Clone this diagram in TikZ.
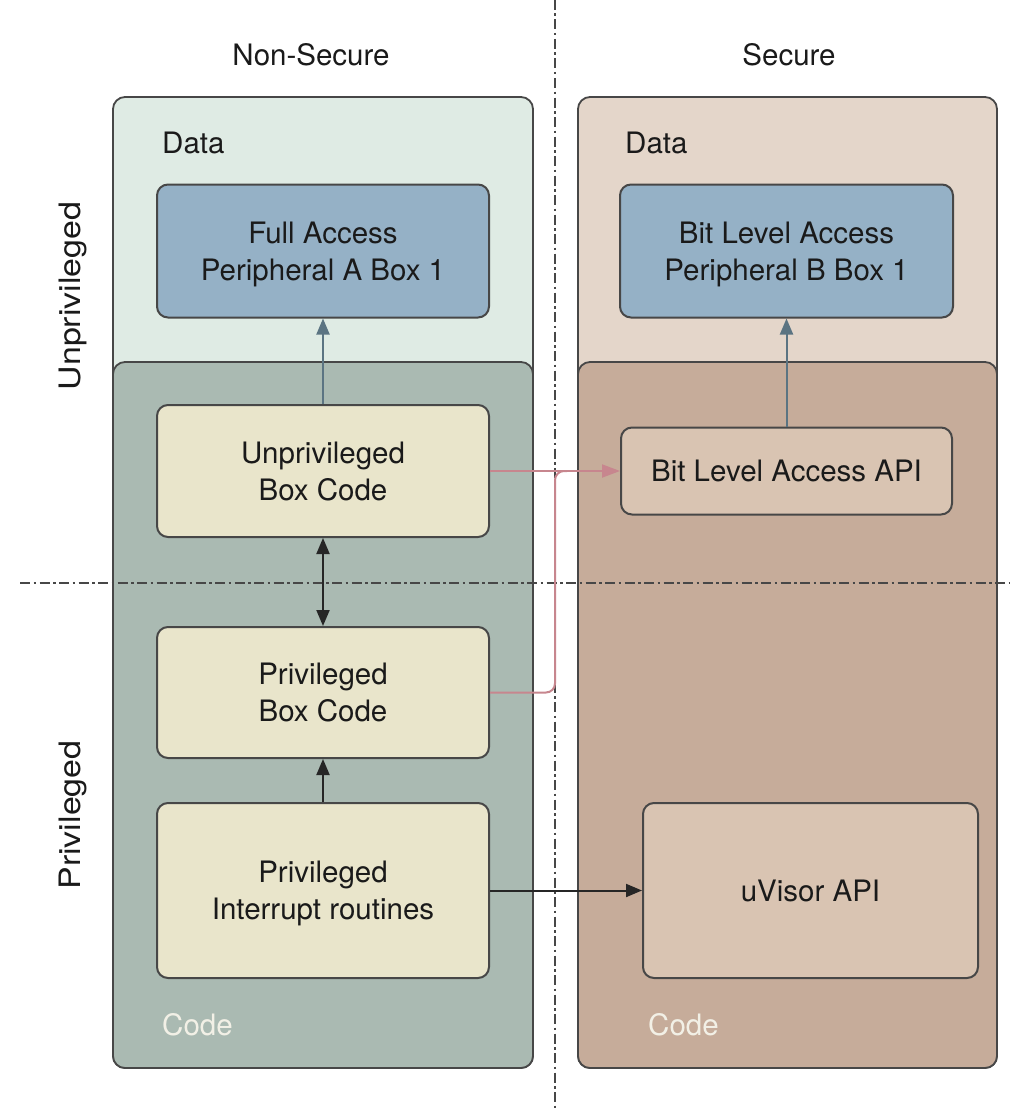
\documentclass[tikz,border=0pt]{standalone}
\usepackage{fontspec}
\setmainfont{TeX Gyre Heros}
\usetikzlibrary{arrows.meta}
\definecolor{ldata}{HTML}{DFEBE4}
\definecolor{lcode}{HTML}{AABAB2}
\definecolor{rdata}{HTML}{E4D6CA}
\definecolor{rcode}{HTML}{C6AC9A}
\definecolor{bluebox}{HTML}{95B1C6}
\definecolor{yelbox}{HTML}{E9E5CB}
\definecolor{tanbox}{HTML}{D9C4B2}
\definecolor{bordercol}{HTML}{474747}
\definecolor{pinkline}{HTML}{C7868E}
\definecolor{bgarrow}{HTML}{5B7482}
\definecolor{txt}{HTML}{1A1A1A}
\definecolor{codetxt}{HTML}{F2F0E6}
\newcommand\lblfont{\fontsize{29.5}{37}\selectfont}
\tikzset{
  region/.style={draw=bordercol, line width=1.8pt, rounded corners=12pt},
  boxnode/.style={draw=bordercol, line width=2pt, rounded corners=11pt, align=center,
    font=\lblfont, text=txt, inner sep=0pt, text depth=0pt},
  bluenode/.style={boxnode, fill=bluebox},
  yelnode/.style={boxnode, fill=yelbox},
  tannode/.style={boxnode, fill=tanbox},
  plain/.style={font=\lblfont, text=txt, inner sep=0pt},
  codelbl/.style={font=\lblfont, text=codetxt, inner sep=0pt, anchor=west},
  datalbl/.style={font=\lblfont, text=txt, inner sep=0pt, anchor=west},
  dashdot/.style={draw=bordercol, line width=1.3pt, dash pattern=on 10pt off 3.5pt on 2.5pt off 3.5pt},
  tip/.style={-{Triangle[length=16pt,width=13pt]}},
  bgarr/.style={tip, draw=bgarrow, line width=2pt},
  darkarr/.style={tip, draw=black!85, line width=2pt},
  pinkarr/.style={draw=pinkline, line width=2pt},
}
\begin{document}
\begin{tikzpicture}[x=1pt,y=-1pt]
\useasboundingbox[fill=white] (0,0) rectangle (1010,1108);
% regions
\draw[region, fill=ldata] (113,97) rectangle (533,1068);
\draw[region, fill=lcode] (113,362) rectangle (533,1068);
\draw[region, fill=rdata] (578,97) rectangle (997,1068);
\draw[region, fill=rcode] (578,362) rectangle (997,1068);
% separators
\draw[dashdot] (555,0) -- (555,1108);
\draw[dashdot] (20,583) -- (1010,583);
% headers
\node[plain] (nonsec) at (311,55) {Non-Secure};
\node[plain] (sec) at (789,55) {Secure};
\node[plain, rotate=90] (unprivlbl) at (73,296) {\scalebox{1.15}[1]{Unprivileged}};
\node[plain, rotate=90] (privlbl) at (73,815) {\scalebox{1.15}[1]{Privileged}};
\node[datalbl] (ldatalbl) at (162,143) {Data};
\node[datalbl] (rdatalbl) at (625,143) {Data};
\node[codelbl] (lcodelbl) at (162,1025) {Code};
\node[codelbl] (rcodelbl) at (648,1025) {Code};
% boxes
\node[bluenode, minimum width=332pt, minimum height=133pt] (fa) at (323,251) {Full Access\\Peripheral A Box 1};
\node[bluenode, minimum width=333pt, minimum height=133pt] (bla) at (786.5,251) {Bit Level Access\\Peripheral B Box 1};
\node[yelnode, minimum width=332pt, minimum height=132pt] (ub) at (323,471) {Unprivileged\\Box Code};
\node[yelnode, minimum width=332pt, minimum height=131pt] (pb) at (323,692.5) {Privileged\\Box Code};
\node[yelnode, minimum width=332pt, minimum height=175pt] (ir) at (323,890.5) {Privileged\\Interrupt routines};
\node[tannode, minimum width=331pt, minimum height=87pt] (api) at (786.5,471) {Bit Level Access API};
\node[tannode, minimum width=335pt, minimum height=175pt] (uv) at (810.5,890.5) {uVisor API};
% connectors
\coordinate (jx) at (555,0);
\draw[bgarr] (ub.north) -- (fa.south);
\draw[bgarr] (api.north) -- (bla.south);
\draw[draw=black!85, line width=2pt, {Triangle[length=16pt,width=13pt]}-{Triangle[length=16pt,width=13pt]}] (ub.south) -- (pb.north);
\draw[darkarr] (ir.north) -- (pb.south);
\draw[darkarr] (ir.east) -- (uv.west);
\draw[pinkarr, rounded corners=9pt] (pb.east) -- (pb.east -| jx) -- (api.west -| jx) -- ++(12,0);
\draw[pinkarr, -{Triangle[length=18pt,width=13pt]}] (ub.east) -- (api.west);
\end{tikzpicture}
\end{document}
